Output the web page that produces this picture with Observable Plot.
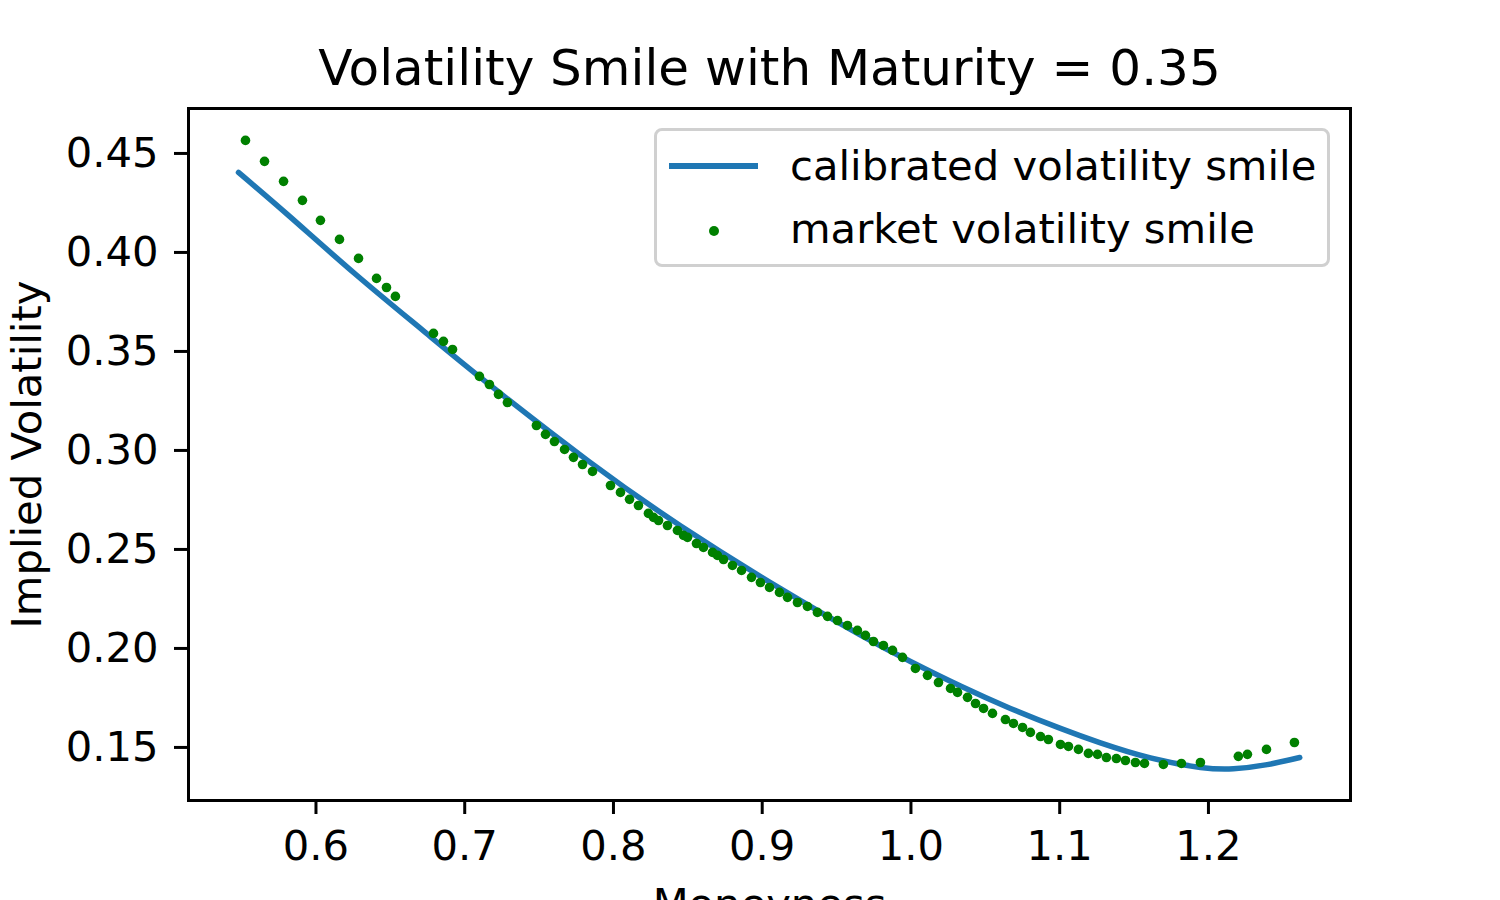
<!DOCTYPE html>
<html>
<head>
<meta charset="utf-8">
<script src="https://cdn.jsdelivr.net/npm/d3@7"></script>
<script src="https://cdn.jsdelivr.net/npm/@observablehq/plot@0.6"></script>
<style>
  html, body { margin: 0; padding: 0; background: white; overflow: hidden; }
  #wrap { position: relative; width: 1500px; height: 900px; overflow: hidden; font-family: "DejaVu Sans", sans-serif; }
  #legend { position: absolute; left: 654px; top: 128px; width: 670px; height: 133px;
    border: 3px solid #d0d0d0; border-radius: 8px; background: rgba(255,255,255,0.8); }
  .lg-text { position: absolute; left: 133px; font-size: 41.7px; line-height: 1; color: black; white-space: nowrap; }
  .lg-line { position: absolute; left: 12px; width: 89px; height: 5.5px; background: #1f77b4; }
  .lg-dot { position: absolute; width: 10px; height: 10px; border-radius: 50%; background: #008000; }
</style>
</head>
<body>
<div id="wrap"></div>
<script>
const chartTitle = "Volatility Smile with Maturity = 0.35";
const xLabel = "Moneyness";
const yLabel = "Implied Volatility";
const seriesNames = ["calibrated volatility smile", "market volatility smile"];

const xTicks = [0.6, 0.7, 0.8, 0.9, 1.0, 1.1, 1.2];
const yTicks = [0.15, 0.20, 0.25, 0.30, 0.35, 0.40, 0.45];

// market implied volatilities (dots)
const marketMoneyness = [
  0.5526, 0.5654, 0.5782, 0.5909, 0.6030, 0.6158, 0.6286, 0.6407, 0.6474, 0.6534,
  0.6790, 0.6857, 0.6918, 0.7099, 0.7166, 0.7227, 0.7287, 0.7482, 0.7543, 0.7603,
  0.7671, 0.7731, 0.7792, 0.7859, 0.7980, 0.8047, 0.8108, 0.8168, 0.8235, 0.8269,
  0.8303, 0.8363, 0.8430, 0.8471, 0.8498, 0.8558, 0.8605, 0.8666, 0.8699, 0.8740,
  0.8800, 0.8861, 0.8928, 0.8988, 0.9049, 0.9116, 0.9170, 0.9237, 0.9304, 0.9371,
  0.9439, 0.9506, 0.9573, 0.9640, 0.9694, 0.9748, 0.9815, 0.9876, 0.9943, 1.0030,
  1.0111, 1.0185, 1.0266, 1.0313, 1.0380, 1.0434, 1.0488, 1.0548, 1.0635, 1.0689,
  1.0750, 1.0803, 1.0871, 1.0924, 1.1005, 1.1059, 1.1126, 1.1193, 1.1254, 1.1314,
  1.1381, 1.1442, 1.1509, 1.1570, 1.1697, 1.1818, 1.1946, 1.2201, 1.2262, 1.2390,
  1.2578
];
const marketVol = [
  0.4566, 0.4460, 0.4359, 0.4263, 0.4162, 0.4066, 0.3970, 0.3869, 0.3823, 0.3778,
  0.3591, 0.3551, 0.3510, 0.3374, 0.3333, 0.3283, 0.3242, 0.3126, 0.3081, 0.3045,
  0.3005, 0.2965, 0.2929, 0.2894, 0.2823, 0.2788, 0.2753, 0.2722, 0.2682, 0.2662,
  0.2646, 0.2621, 0.2596, 0.2571, 0.2561, 0.2530, 0.2510, 0.2485, 0.2470, 0.2449,
  0.2419, 0.2394, 0.2359, 0.2333, 0.2308, 0.2283, 0.2258, 0.2232, 0.2212, 0.2182,
  0.2162, 0.2141, 0.2116, 0.2091, 0.2066, 0.2035, 0.2015, 0.1990, 0.1955, 0.1899,
  0.1864, 0.1828, 0.1798, 0.1778, 0.1753, 0.1722, 0.1697, 0.1672, 0.1641, 0.1621,
  0.1601, 0.1576, 0.1555, 0.1540, 0.1515, 0.1505, 0.1490, 0.1470, 0.1465, 0.1449,
  0.1444, 0.1434, 0.1424, 0.1419, 0.1414, 0.1419, 0.1424, 0.1455, 0.1465, 0.1490,
  0.1525
];

// calibrated smile (line)
const calibMoneyness = [0.5479, 0.5815, 0.6264, 0.6711, 0.7160, 0.7832, 0.8450, 0.9123, 0.9661,
  0.9997, 1.0333, 1.0669, 1.1005, 1.1274, 1.1610, 1.1946, 1.2168, 1.2395, 1.2614];
const calibVol = [0.4404, 0.4187, 0.3891, 0.3611, 0.3336, 0.2946, 0.2620, 0.2302, 0.2068,
  0.1934, 0.1810, 0.1697, 0.1596, 0.1523, 0.1447, 0.1399, 0.1392, 0.1413, 0.1449];

const market = marketMoneyness.map((m, i) => ({m, v: marketVol[i]}));
const calib = calibMoneyness.map((m, i) => ({m, v: calibVol[i]}));

const chart = Plot.plot({
  width: 1500,
  height: 900,
  marginLeft: 188,
  marginRight: 150,
  marginTop: 108,
  marginBottom: 100,
  style: { fontFamily: "DejaVu Sans", fontSize: "41.7px", background: "white", color: "black" },
  x: { domain: [0.5143, 1.2955] },
  y: { domain: [0.1232, 0.4727] },
  marks: [
    Plot.line(calib, { x: "m", y: "v", stroke: "#1f77b4", strokeWidth: 5.5, curve: "natural" }),
    Plot.dot(market, { x: "m", y: "v", r: 4.8, fill: "#008000", stroke: "none" }),
    Plot.frame({ stroke: "black", strokeWidth: 3 }),
    Plot.axisX({ ticks: xTicks, tickFormat: d => d.toFixed(1), tickSize: 14, tickPadding: 16,
      strokeWidth: 3, label: null, fontSize: 41.7 }),
    Plot.axisY({ ticks: yTicks, tickFormat: d => d.toFixed(2), tickSize: 14, tickPadding: 16,
      strokeWidth: 3, label: null, fontSize: 41.7 }),
    Plot.text([chartTitle], { frameAnchor: "top", dy: -40, fontSize: 50, lineAnchor: "middle", fill: "black" }),
    Plot.text([xLabel], { frameAnchor: "bottom", dy: 88, fontSize: 41.7, lineAnchor: "top", fill: "black" }),
    Plot.text([yLabel], { frameAnchor: "left", dx: -161, rotate: -90, fontSize: 41.7,
      textAnchor: "middle", lineAnchor: "middle", fill: "black" })
  ]
});

const wrap = document.getElementById("wrap");
wrap.appendChild(chart);

const legend = document.createElement("div");
legend.id = "legend";
legend.innerHTML = `
  <div class="lg-line" style="top:32px"></div>
  <div class="lg-text" style="top:14px">${seriesNames[0]}</div>
  <div class="lg-dot" style="left:52px; top:95px"></div>
  <div class="lg-text" style="top:77px">${seriesNames[1]}</div>`;
wrap.appendChild(legend);
</script>
</body>
</html>
